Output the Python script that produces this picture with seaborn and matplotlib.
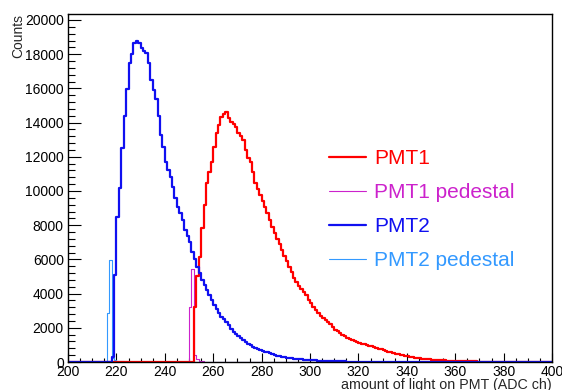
import numpy as np
import pandas as pd
import matplotlib
matplotlib.use("Agg")
import matplotlib.pyplot as plt
import seaborn as sns
from matplotlib.ticker import MultipleLocator

# ---------------- data (counts per 1-ADC-channel bin) ----------------
x_min, x_max = 200, 400

pmt1_first = 252
pmt1_counts = [3230, 5000, 6160, 7830, 9180, 10450, 11100, 11710, 12590, 13370,
               13860, 14350, 14500, 14620, 14250, 14050, 13900, 13760, 13370, 13200,
               12980, 12400, 11950, 11710, 11130, 10450, 10100, 9770, 9400, 9080,
               8700, 8300, 7900, 7530, 7200, 6900, 6550, 6200, 5900, 5570,
               5250, 4890, 4700, 4450, 4250, 4110, 3900, 3650, 3450, 3230,
               3050, 2850, 2700, 2550, 2450, 2360, 2200, 2050, 1900, 1800,
               1680, 1600, 1500, 1420, 1350, 1300, 1240, 1190, 1130, 1080,
               1040, 1000, 960, 920, 880, 820, 780, 740, 700, 650,
               610, 560, 520, 480, 450, 420, 390, 360, 330, 300,
               280, 260, 240, 220, 200, 185, 170, 155, 140, 130,
               120, 110, 100, 90, 80, 75, 70, 65, 60, 55,
               50, 46, 42, 38, 35, 32, 30, 27, 25, 23,
               21, 19, 17, 15, 14, 13, 12, 11, 10, 9,
               8, 8, 7, 7, 6, 6, 5, 5]

pmt1_ped_first = 250
pmt1_ped_counts = [3230, 5420, 400, 150, 70, 40, 20, 10]

pmt2_first = 218
pmt2_counts = [300, 5090, 8500, 10175, 12500, 14390, 15950, 17480, 18010, 18650,
               18770, 18650, 18360, 18200, 18090, 17480, 16490, 15900, 15380, 14390,
               13275, 12590, 11710, 11200, 10840, 10250, 9600, 9080, 8700, 8300,
               7720, 7350, 7035, 6450, 6000, 5570, 5200, 4800, 4500, 4210,
               3900, 3625, 3350, 3100, 2850, 2650, 2500, 2360, 2150, 1950,
               1770, 1650, 1520, 1400, 1290, 1180, 1080, 990, 895, 820,
               750, 700, 640, 600, 560, 510, 460, 420, 380, 340,
               310, 280, 250, 230, 210, 190, 170, 160, 150, 140,
               130, 120, 110, 100, 92, 85, 78, 72, 66, 60,
               55, 50, 46, 42, 38, 35, 32, 29, 27, 25,
               23, 21, 19, 17, 16, 15, 14, 13, 12, 11, 10, 9, 8]

pmt2_ped_first = 216
pmt2_ped_counts = [2850, 5960, 250, 120, 80, 50, 30, 20]

labels = ["PMT1", "PMT1 pedestal", "PMT2", "PMT2 pedestal"]
colors = ["#ff0000", "#cc22cc", "#1010f0", "#3399ff"]
widths = [1.6, 0.8, 1.6, 0.8]

# ---------------- build histograms over the full range ----------------
centers = np.arange(x_min, x_max) + 0.5


def full(first, vals):
    arr = np.zeros(len(centers))
    i0 = first - x_min
    n = min(len(vals), len(arr) - i0)
    arr[i0:i0 + n] = vals[:n]
    return arr


series = {
    "PMT1": full(pmt1_first, pmt1_counts),
    "PMT1 pedestal": full(pmt1_ped_first, pmt1_ped_counts),
    "PMT2": full(pmt2_first, pmt2_counts),
    "PMT2 pedestal": full(pmt2_ped_first, pmt2_ped_counts),
}

sns.set_style("white")
plt.rcParams["font.family"] = ["Liberation Sans", "DejaVu Sans"]

fig = plt.figure(figsize=(5.62, 3.9), dpi=100)
ax = fig.add_axes([68 / 562, 28 / 390, 484 / 562, 348 / 390])

draw_order = ["PMT1 pedestal", "PMT2 pedestal", "PMT1", "PMT2"]
handles = {}
for name in draw_order:
    i = labels.index(name)
    df = pd.DataFrame({"x": centers, "w": series[name]})
    sns.histplot(data=df, x="x", weights="w", binwidth=1,
                 binrange=(x_min, x_max), element="step",
                 fill=False, color=colors[i], linewidth=widths[i], ax=ax)
    handles[name] = plt.Line2D([], [], color=colors[i], linewidth=widths[i])

ax.set_xlim(x_min, x_max)
ax.set_ylim(0, 20350)
ax.xaxis.set_major_locator(MultipleLocator(20))
ax.xaxis.set_minor_locator(MultipleLocator(5))
ax.yaxis.set_major_locator(MultipleLocator(2000))
ax.yaxis.set_minor_locator(MultipleLocator(400))

ax.tick_params(axis="both", which="both", direction="in", colors="black",
               labelsize=10, top=False, right=False)
ax.tick_params(axis="x", which="major", length=6.5, width=0.8, pad=2)
ax.tick_params(axis="x", which="minor", length=3.2, width=0.8)
ax.tick_params(axis="y", which="major", length=9.4, width=0.8, pad=3)
ax.tick_params(axis="y", which="minor", length=4.7, width=0.8)
ax.xaxis.set_tick_params(which="both", bottom=True)
ax.yaxis.set_tick_params(which="both", left=True)

for s in ax.spines.values():
    s.set_color("black")
    s.set_linewidth(1.0)

ax.set_xlabel("amount of light on PMT (ADC ch)", fontsize=10.3, ha="right")
ax.xaxis.set_label_coords(1.0, -0.047, transform=ax.transAxes)
ax.xaxis.label.set_verticalalignment("top")
ax.set_ylabel("Counts", fontsize=10, ha="right")
ax.yaxis.set_label_coords(-0.089, 1.0, transform=ax.transAxes)

leg = ax.legend([handles[n] for n in labels], labels, loc="upper left",
                bbox_to_anchor=(0.54, 0.612), frameon=False, fontsize=15,
                handlelength=1.75, handletextpad=0.4, labelspacing=0.72,
                borderpad=0, borderaxespad=0, labelcolor="linecolor")

fig.savefig("out.png", dpi=100, facecolor="white")
